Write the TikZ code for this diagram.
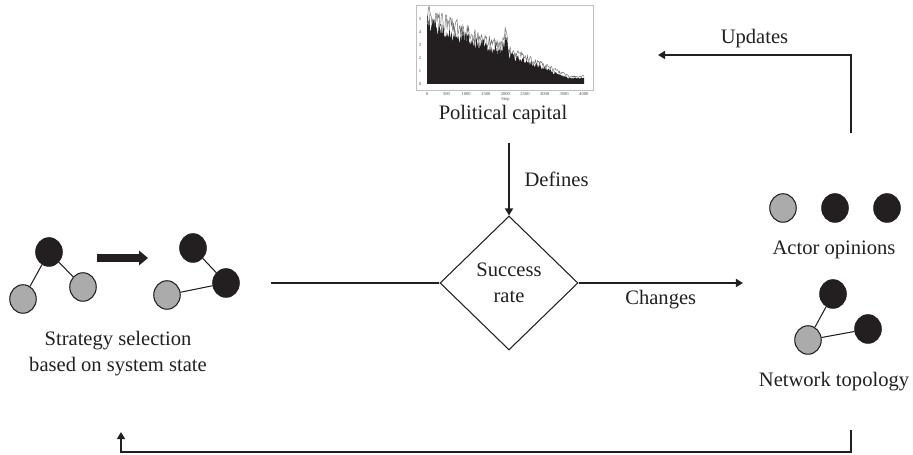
\documentclass[tikz,border=0pt]{standalone}
\usepackage{fontspec}
\setmainfont{Liberation Serif}
\usetikzlibrary{arrows.meta,shapes.geometric,positioning}
\definecolor{ink}{HTML}{231F20}
\definecolor{greynode}{HTML}{ABABAB}

\begin{document}
\begin{tikzpicture}[x=0.02cm, y=-0.02cm,
    every node/.style={font=\fontsize{11.7}{14.8}\selectfont, text=ink},
    >={Triangle[length=4pt,width=4.5pt]},
    flow/.style={draw=ink, line width=1.1pt},
    agent/.style={ellipse, draw=ink, line width=0.6pt, minimum width=0.53cm, minimum height=0.57cm, inner sep=0pt},
    pro/.style={agent, fill=ink},
    con/.style={agent, fill=greynode},
    link/.style={draw=ink, line width=0.6pt},
    tick/.style={font=\fontsize{2.6}{3}\selectfont, text=black!70, inner sep=0.5pt}]
  \useasboundingbox (0,0) rectangle (913,455);

  % chart of political capital
  \draw[black!25, line width=0.4pt] (416,5) rectangle (593,90);
  \begin{scope}[shift={(427,84)}]
    \pgfmathsetseed{7}
    \draw[black!60, line width=0.25pt] plot[domain=0:157, samples=220]
      (\x, {-13*(max(0.6,5.3-0.0331*\x)*(0.85+0.3*rnd) + max(0,1.4-abs(\x-78.5)*0.4))});
    \fill[ink] (0,0) -- plot[domain=0:157, samples=280]
      (\x, {-13*(max(0.5,5.2-0.0331*\x)*(0.75+0.3*rnd) + max(0,1.3-abs(\x-78.5)*0.4))}) -- (157,0) -- cycle;
    % ticks
    \foreach \v in {0,...,5}
      \node[tick] at (-7,-13*\v) {\v};
    \foreach \s [count=\i from 0] in {0,500,1000,1500,2000,2500,3000,3500,4000}
      \node[tick] at (19.6*\i,10) {\s};
    \node[tick] at (78.5,15) {Step};
  \end{scope}

  % nodes
  \node (capital) at (503,115) {Political capital};
  \node[diamond, draw=ink, line width=0.6pt, minimum width=2.76cm, minimum height=2.68cm,
        inner sep=0pt, align=center] (rate) at (509,283) {Success\\rate};
  \coordinate (defstart) at (509,143);
  \coordinate (leftstart) at (271,283);
  \coordinate (rightend) at (743,283);
  \coordinate (upstart) at (851,133);
  \coordinate (upend) at (658,55);
  \coordinate (backstart) at (851,430);
  \coordinate (backcorner) at (851,452);
  \coordinate (backend) at (121,432);

  % strategy networks
  \node[pro] (s1top) at (49,252) {};
  \node[con] (s1left) at (23,299) {};
  \node[con] (s1right) at (83,287) {};
  \draw[link] (s1top) -- (s1left);
  \draw[link] (s1top) -- (s1right);
  \node[pro] (s2top) at (193,248) {};
  \node[pro] (s2right) at (226,283) {};
  \node[con] (s2left) at (167,295) {};
  \draw[link] (s2top) -- (s2right);
  \draw[link] (s2left) -- (s2right);
  \coordinate (shiftfrom) at (97,258);
  \coordinate (shiftto) at (148,258);
  \draw[ink, line width=4pt, -{Triangle[length=5pt,width=8pt]}] (shiftfrom) -- (shiftto);
  \node[align=center] (strategy) at (118,354) {Strategy selection\\based on system state};

  % actor side
  \node[con] (op1) at (783,208) {};
  \node[pro] (op2) at (835,208) {};
  \node[pro] (op3) at (887,208) {};
  \node (opinions) at (834,250) {Actor opinions};
  \node[pro] (t1) at (833,294) {};
  \node[pro] (t2) at (868,329) {};
  \node[con] (t3) at (808,340) {};
  \draw[link] (t3) -- (t1);
  \draw[link] (t3) -- (t2);
  \node (topology) at (834,382) {Network topology};

  % flows
  \draw[flow, ->] (defstart) -- (rate.north) node[midway, right=5pt] {Defines};
  \draw[flow] (leftstart) -- (rate.west);
  \draw[flow, ->] (rate.east) -- (rightend) node[midway, below] {Changes};
  \draw[flow, ->] (upstart) |- (upend) node[pos=0.75, above] {Updates};
  \draw[flow, ->] (backstart) -- (backcorner) -| (backend);
\end{tikzpicture}
\end{document}
